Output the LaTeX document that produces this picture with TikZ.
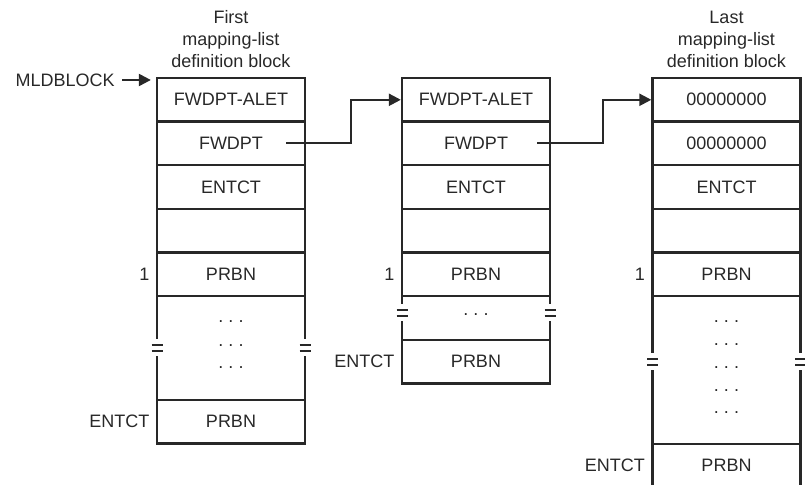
\documentclass[tikz,border=0pt]{standalone}
\usepackage{fontspec}
\setmainfont{Liberation Sans}
\usepackage{tikz}
\usetikzlibrary{positioning, calc, arrows.meta}
\definecolor{inkGray}{RGB}{40, 40, 40}
\tikzset{
  fieldbox/.style={rectangle, draw=inkGray, line width=1.15pt,
                   minimum width=74pt, minimum height=21.8pt, inner sep=0pt,
                   align=center, text=inkGray, font=\fontsize{9}{11}\selectfont},
  sidelbl/.style={anchor=east, inner sep=0pt, text=inkGray,
                  font=\fontsize{9}{11}\selectfont},
  titlelbl/.style={align=center, inner sep=0pt, text=inkGray,
                   font=\fontsize{9}{11}\selectfont},
  dotrow/.style={inner sep=0pt, text=inkGray, font=\fontsize{9}{11}\selectfont},
  ptrline/.style={draw=inkGray, line width=1.1pt,
                  -{Triangle[length=6pt, width=6pt]}},
  wall/.style={draw=inkGray, line width=1.15pt},
  tick/.style={draw=inkGray, line width=1pt},
}
% side wall of a block, broken in the gap section: x, top, break, bottom
\newcommand{\brokenwall}[4]{%
  \draw[wall] (#1,#2) -- (#1,#3-8.5);
  \draw[wall] (#1,#3+8.5) -- (#1,#4);
  \draw[tick] (#1-5.5,#3-3) -- (#1+5.5,#3-3);
  \draw[tick] (#1-5.5,#3+3) -- (#1+5.5,#3+3);
}
\newcommand{\threedots}{.\hspace{2.6pt}.\hspace{2.6pt}.}

\begin{document}
\begin{tikzpicture}[x=0.5pt, y=-0.5pt]
    \path[use as bounding box, clip] (0,0) rectangle (805,485);

    % first block
    \node[titlelbl] (T1) at (231,39.5) {First\\mapping-list\\definition block};
    \node[fieldbox] (A1) at (231,99.8)  {FWDPT-ALET};
    \node[fieldbox] (A2) at (231,143.4) {FWDPT};
    \node[fieldbox] (A3) at (231,187)   {ENTCT};
    \node[fieldbox] (A4) at (231,230.6) {};
    \node[fieldbox] (A5) at (231,274.2) {PRBN};
    \node[fieldbox] (A6) at (231,421.8) {PRBN};
    \node[dotrow] (A7) at (231,322) {\threedots};
    \node[dotrow] (A8) at (231,346) {\threedots};
    \node[dotrow] (A9) at (231,368) {\threedots};
    \brokenwall{157}{296}{348}{400}
    \brokenwall{305}{296}{348}{400}
    \node[sidelbl] (L1) at ([xshift=-3pt]A5.west) {1};
    \node[sidelbl] (L2) at ([xshift=-3pt]A6.west) {ENTCT};

    \node[sidelbl] (MLD) at (115,80) {MLDBLOCK};
    \draw[ptrline] ([xshift=3.5pt]MLD.east) -- ($(MLD.east -| A1.west)+(-2.5pt,0)$);

    % middle block
    \node[fieldbox] (B1) at (476,99.8)  {FWDPT-ALET};
    \node[fieldbox] (B2) at (476,143.4) {FWDPT};
    \node[fieldbox] (B3) at (476,187)   {ENTCT};
    \node[fieldbox] (B4) at (476,230.6) {};
    \node[fieldbox] (B5) at (476,274.2) {PRBN};
    \node[fieldbox] (B6) at (476,361.8) {PRBN};
    \node[dotrow] (B7) at (476,315) {\threedots};
    \brokenwall{402}{296}{313}{340}
    \brokenwall{550}{296}{313}{340}
    \node[sidelbl] (L3) at ([xshift=-3pt]B5.west) {1};
    \node[sidelbl] (L4) at ([xshift=-3pt]B6.west) {ENTCT};

    % last block
    \node[titlelbl] (T3) at (726.5,39.5) {Last\\mapping-list\\definition block};
    \node[fieldbox] (C1) at (726.5,99.8)  {00000000};
    \node[fieldbox] (C2) at (726.5,143.4) {00000000};
    \node[fieldbox] (C3) at (726.5,187)   {ENTCT};
    \node[fieldbox] (C4) at (726.5,230.6) {};
    \node[fieldbox] (C5) at (726.5,274.2) {PRBN};
    \node[fieldbox] (C6) at (726.5,465.8) {PRBN};
    \node[dotrow] (C7) at (726.5,322) {\threedots};
    \node[dotrow] (C8) at (726.5,345) {\threedots};
    \node[dotrow] (C9) at (726.5,368) {\threedots};
    \node[dotrow] (C10) at (726.5,391) {\threedots};
    \node[dotrow] (C11) at (726.5,413) {\threedots};
    \brokenwall{652.5}{296}{362}{444}
    \brokenwall{800.5}{296}{362}{444}
    \node[sidelbl] (L5) at ([xshift=-3pt]C5.west) {1};
    \node[sidelbl] (L6) at ([xshift=-3pt]C6.west) {ENTCT};

    % forward pointers
    \draw[ptrline] ([xshift=-10pt]A2.east) -- ++(32.5pt,0) |- (B1.west);
    \draw[ptrline] ([xshift=-7pt]B2.east) -- ++(33pt,0) |- (C1.west);
  \end{tikzpicture}
\end{document}
